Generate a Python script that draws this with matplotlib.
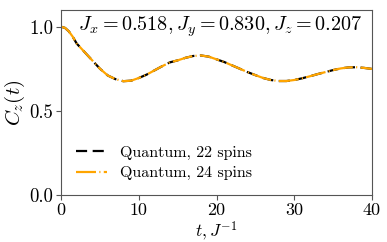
import matplotlib
matplotlib.use("Agg")
import matplotlib.pyplot as plt

plt.rcParams['font.family'] = 'serif'
plt.rcParams['font.serif'] = ['cmr10']
plt.rcParams['mathtext.fontset'] = 'cm'
plt.rcParams['axes.formatter.use_mathtext'] = True
plt.rcParams['axes.unicode_minus'] = False

t = [0, 0.5, 1, 1.5] + list(range(2, 41))
c22 = [1.0, 0.993, 0.972, 0.94, 0.90, 0.85, 0.80, 0.75, 0.71, 0.688, 0.676, 0.679, 0.695,
       0.715, 0.74, 0.765, 0.788, 0.80, 0.815, 0.826, 0.829, 0.822, 0.806,
       0.79, 0.77, 0.75, 0.73, 0.712, 0.695, 0.683, 0.677, 0.677, 0.683,
       0.693, 0.705, 0.718, 0.73, 0.742, 0.752, 0.758, 0.759, 0.755, 0.749]
c24 = list(c22)

xticks = [0, 10, 20, 30, 40]
yticks = [0.0, 0.5, 1.0]
labels = ["Quantum, 22 spins", "Quantum, 24 spins"]
title = r"$J_x = 0.518, J_y = 0.830, J_z = 0.207$"

fig = plt.figure(figsize=(3.87, 2.42), dpi=100)
ax = fig.add_axes([0.158, 0.195, 0.803, 0.764])
ax.plot(t, c22, color='black', linestyle=(0, (5, 2.5)), lw=1.6, label=labels[0])
ax.plot(t, c24, color='#FFA500', linestyle=(0, (9, 1.5, 0.5, 1.5)), lw=1.6, label=labels[1])
ax.set_xlim(0, 40)
ax.set_ylim(0, 1.1)
ax.set_xticks(xticks)
ax.set_yticks(yticks)
ax.set_xticklabels([str(x) for x in xticks], fontsize=13)
ax.set_yticklabels(["%.1f" % y for y in yticks], fontsize=13.5)
ax.set_xlabel(r"$t, J^{-1}$", fontsize=12.5)
ax.xaxis.set_label_coords(0.5, -0.135)
ax.set_ylabel(r"$C_z(t)$", fontsize=15, labelpad=2)
for s in ax.spines.values():
    s.set_color('#555555')
ax.tick_params(colors='#555555', labelcolor='black', length=3.5, pad=2)
ax.text(20.5, 1.0, title, fontsize=14.5, ha='center', va='center')
ax.legend(loc='lower left', frameon=False, fontsize=11.5, handlelength=2.0,
          borderaxespad=0.5, labelspacing=0.4)
fig.savefig("out.png", dpi=100)
